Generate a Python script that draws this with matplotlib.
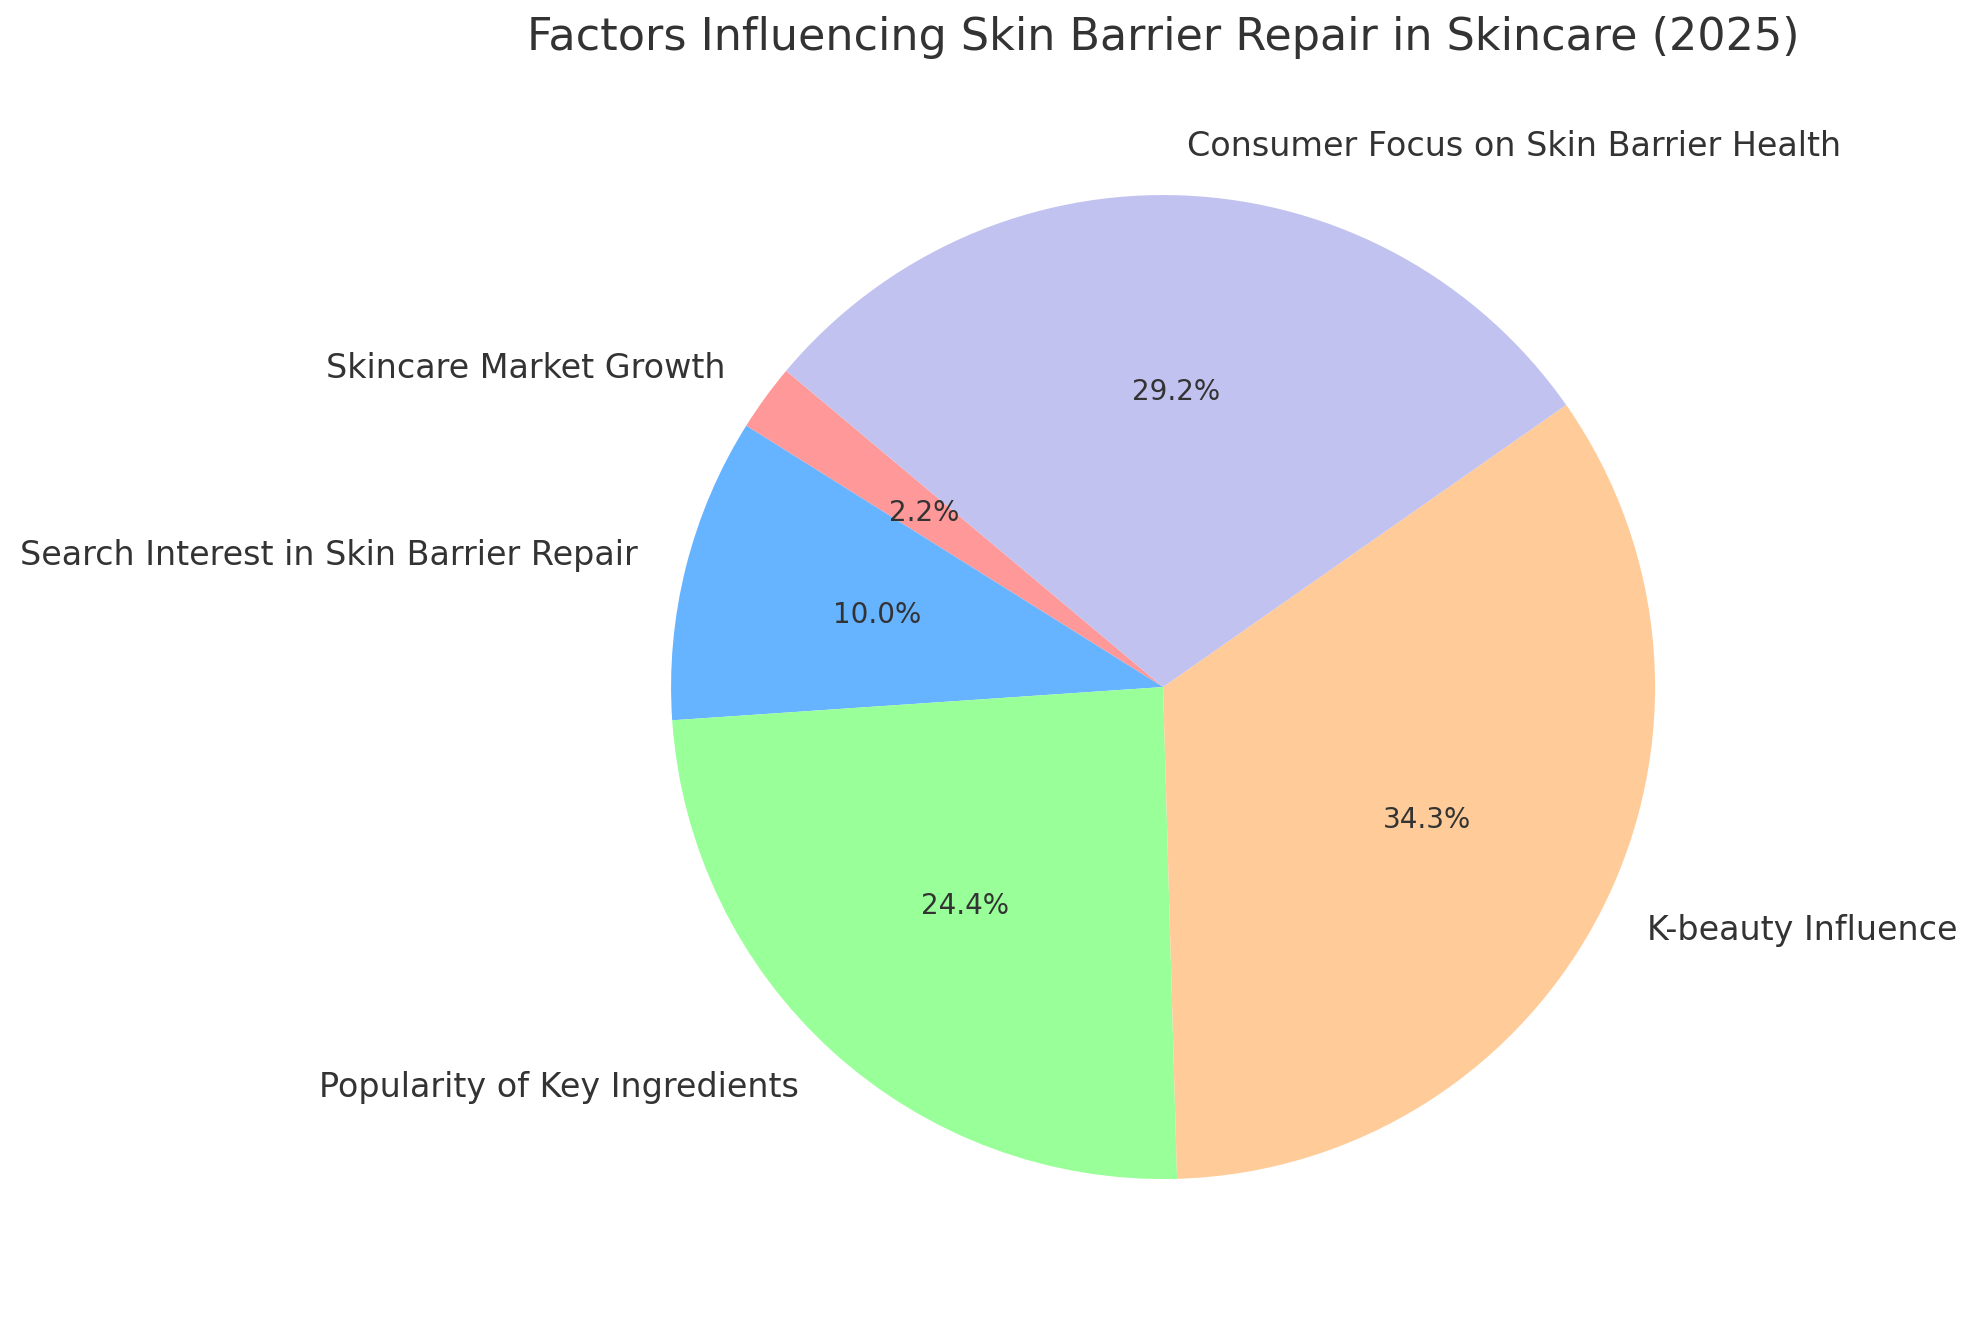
import matplotlib.pyplot as plt

## -----------------------------------------------------------------------------
# Data
factors = ["Skincare Market Growth", "Search Interest in Skin Barrier Repair",
           "Popularity of Key Ingredients", "K-beauty Influence",
           "Consumer Focus on Skin Barrier Health"]
shares = [2.2, 10.0, 24.4, 34.3, 29.2]
colors = ["#ff9999", "#66b3ff", "#99ff99", "#ffcc99", "#c2c2f0"]

## -----------------------------------------------------------------------------
# plot
fig = plt.figure(figsize=(9.885, 6.61), dpi=200)
ax = fig.add_axes([0.2772, 0.0151, 0.6222, 0.9304])

wedges, texts, autotexts = ax.pie(shares, labels=factors, colors=colors,
                                  autopct="%1.1f%%", startangle=140,
                                  textprops={"color": "#333333", "fontsize": 12})
for t in autotexts:
    t.set_fontsize(10)
ax.set_aspect("equal")
ax.set_title("Factors Influencing Skin Barrier Repair in Skincare (2025)",
             fontsize=16, color="#333333", pad=8)

fig.savefig("out.png", dpi=200)
